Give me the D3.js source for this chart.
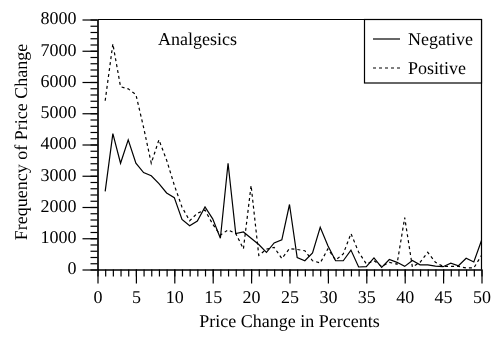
<!DOCTYPE html>
<html>
<head>
<meta charset="utf-8">
<script src="https://cdn.jsdelivr.net/npm/d3@7"></script>
<style>
  html, body { margin: 0; padding: 0; background: #fff; }
  svg { display: block; will-change: transform; }
  svg text { font-family: "Liberation Serif", "Times New Roman", serif; fill: #000; text-rendering: geometricPrecision; }
  .axis line, .axis path { stroke: #000; stroke-width: 1.2; }
</style>
</head>
<body>
<svg id="chart" width="493" height="339"></svg>
<script>
// Price change in percent (1..50)
const priceChange = d3.range(1, 51);

// Frequency of negative price changes
const negative = [
  2500, 4350, 3400, 4150, 3400, 3100, 3000, 2750, 2450, 2300,
  1600, 1400, 1550, 2000, 1620, 1000, 3400, 1150, 1200, 1000,
  800, 550, 850, 950, 2080, 380, 280, 530, 1350, 760,
  280, 280, 620, 80, 90, 370, 70, 320, 230, 100,
  290, 150, 150, 110, 90, 200, 120, 360, 240, 930
];

// Frequency of positive price changes
const positive = [
  5400, 7220, 5850, 5780, 5600, 4550, 3400, 4150, 3500, 2700,
  2000, 1560, 1800, 1900, 1450, 1100, 1270, 1150, 660, 2690,
  450, 650, 710, 350, 670, 640, 600, 280, 210, 660,
  300, 500, 1150, 560, 180, 280, 100, 230, 170, 1660,
  80, 230, 550, 230, 100, 100, 100, 50, 50, 450
];

const xTicks = d3.range(0, 51, 5);
const xMinor = d3.range(0, 51, 1);
const yTicks = d3.range(0, 8001, 1000);
const yMinor = d3.range(0, 8001, 200);

const FONT = '"Liberation Serif", "Times New Roman", serif';
const FS = 18;

const svg = d3.select("#chart");
const plotLeft = 97.5, plotRight = 481.5, plotTop = 19.5, plotBottom = 269.5;

const x = d3.scaleLinear().domain([0, 50]).range([plotLeft, plotRight]);
const y = d3.scaleLinear().domain([0, 8000]).range([plotBottom, plotTop]);

// Frame (top and right edges)
svg.append("path")
  .attr("d", `M${plotLeft},${plotTop}H${plotRight}V${plotBottom}`)
  .attr("fill", "none").attr("stroke", "#000").attr("stroke-width", 1.2);

const styleAxis = g => g
  .attr("class", "axis")
  .attr("font-family", null)
  .attr("font-size", null)
  .call(s => s.selectAll("text")
    .style("font-family", FONT)
    .style("font-size", FS + "px")
    .style("fill", "#000"));

// Minor ticks
svg.append("g")
  .attr("transform", `translate(0,${plotBottom})`)
  .call(d3.axisBottom(x).tickValues(xMinor).tickSize(7).tickSizeOuter(0).tickFormat(""))
  .call(styleAxis);
svg.append("g")
  .attr("transform", `translate(${plotLeft},0)`)
  .call(d3.axisLeft(y).tickValues(yMinor).tickSize(7).tickSizeOuter(0).tickFormat(""))
  .call(styleAxis);

// Major ticks with labels
svg.append("g")
  .attr("transform", `translate(0,${plotBottom})`)
  .call(d3.axisBottom(x).tickValues(xTicks).tickSize(14).tickSizeOuter(0).tickPadding(7).tickFormat(d3.format("d")))
  .call(styleAxis);
svg.append("g")
  .attr("transform", `translate(${plotLeft},0)`)
  .call(d3.axisLeft(y).tickValues(yTicks).tickSize(15).tickSizeOuter(0).tickPadding(6).tickFormat(d3.format("d")))
  .call(styleAxis)
  .call(g => g.selectAll("text").attr("dy", "0.24em"));

// Axis titles
svg.append("text")
  .attr("x", (plotLeft + plotRight) / 2).attr("y", 327)
  .attr("text-anchor", "middle").style("font-size", FS + "px")
  .text("Price Change in Percents");
svg.append("text")
  .attr("transform", "translate(27,142) rotate(-90)")
  .attr("text-anchor", "middle").style("font-size", FS + "px")
  .text("Frequency of Price Change");

// Series lines
const line = (vals) => d3.line()
  .x((d, i) => x(priceChange[i]))
  .y(d => y(d))(vals);

svg.append("path").attr("d", line(negative))
  .attr("fill", "none").attr("stroke", "#000").attr("stroke-width", 1.2)
  .attr("stroke-linejoin", "miter");
svg.append("path").attr("d", line(positive))
  .attr("fill", "none").attr("stroke", "#000").attr("stroke-width", 1.2)
  .attr("stroke-dasharray", "3,3");

// Panel title
svg.append("text")
  .attr("x", 158).attr("y", 45).style("font-size", FS + "px")
  .text("Analgesics");

// Legend
const legend = svg.append("g");
legend.append("rect")
  .attr("x", 364.5).attr("y", plotTop).attr("width", plotRight - 364.5).attr("height", 63.5)
  .attr("fill", "#fff").attr("stroke", "#000").attr("stroke-width", 1.2);
const items = [
  { name: "Negative", dash: null, y: 39 },
  { name: "Positive", dash: "3,3", y: 68 }
];
items.forEach(it => {
  legend.append("line")
    .attr("x1", 373).attr("x2", 400).attr("y1", it.y).attr("y2", it.y)
    .attr("stroke", "#000").attr("stroke-width", 1.2)
    .attr("stroke-dasharray", it.dash);
  legend.append("text")
    .attr("x", 408).attr("y", it.y + 5.5).style("font-size", FS + "px")
    .text(it.name);
});
</script>
</body>
</html>
